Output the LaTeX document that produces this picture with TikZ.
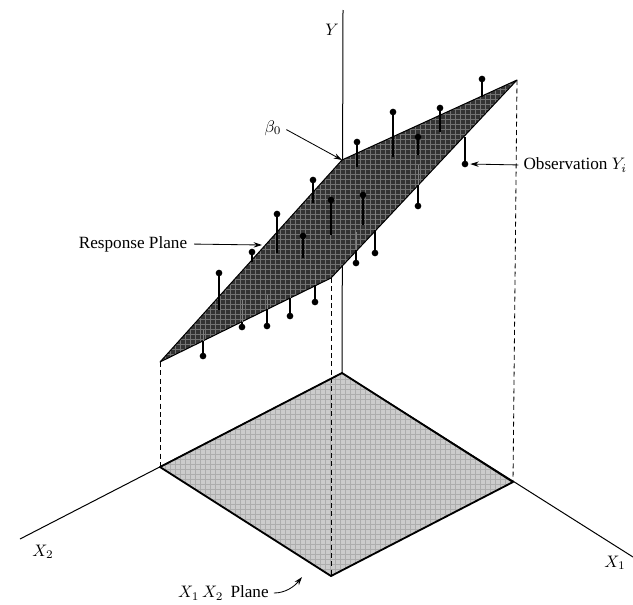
\documentclass[tikz,border=0pt]{standalone}
\usepackage{fontspec}
\setmainfont{Liberation Serif}
\usetikzlibrary{arrows.meta,patterns}
\begin{document}
\begin{tikzpicture}[x=0.6pt,y=-0.6pt,
  lbl/.style={font=\fontsize{10.3}{12}\selectfont, inner sep=1pt},
  ptr/.style={-{Stealth[length=5pt,width=3.2pt]}, line width=0.5pt},
  axis/.style={line width=0.6pt},
  edge/.style={line width=1.1pt, line join=round},
  guide/.style={dash pattern=on 3pt off 2pt, line width=0.5pt},
  obs/.style={circle, fill=black, inner sep=0pt, minimum size=4pt},
  stem/.style={line width=0.8pt},
  hidstem/.style={line width=0.6pt, black!50},
  planefill/.style={fill=black!80},
  floorfill/.style={fill=black!20},
]
\useasboundingbox (0,0) rectangle (633,604);

% key points
\coordinate (O) at (342,373);
\coordinate (FL) at (160,467);
\coordinate (FR) at (513,482);
\coordinate (FF) at (331,576);
\coordinate (PB) at (342,160);
\coordinate (PL) at (160,362);
\coordinate (PR) at (517,80);
\coordinate (PF) at (331,278);
\coordinate (Ytop) at (343,10);
\coordinate (X2end) at (20,539);
\coordinate (X1end) at (633,557);

% axes
\draw[axis] (Ytop) -- (O);
\draw[axis] (O) -- (X2end);
\draw[axis] (O) -- (X1end);

% X1 X2 plane
\fill[floorfill] (O) -- (FL) -- (FF) -- (FR) -- cycle;
\fill[pattern=grid, pattern color=black!32] (O) -- (FL) -- (FF) -- (FR) -- cycle;
\draw[edge] (O) -- (FL) -- (FF) -- (FR) -- cycle;

% vertical guides
\draw[guide] (PL) -- (FL);
\draw[guide] (PR) -- (FR);
\draw[guide] (PF) -- (FF);

% response plane
\fill[planefill] (PL) -- (PB) -- (PR) -- (PF) -- cycle;
\fill[pattern=grid, pattern color=black!55] (PL) -- (PB) -- (PR) -- (PF) -- cycle;
\draw[line width=0.6pt, line join=round] (PL) -- (PB) -- (PR) -- (PF) -- cycle;

% observations below the plane
\foreach \x/\yd/\ye/\yi [count=\i] in {418/206/185/165, 465/164/137/137, 375/253/230/210,
    356/263/250/232, 315/302/285/265, 290/316/298/282, 267/326/309/295,
    242/327/322/300, 203/356/341/330}{
  \draw[hidstem] (\x,\yi) -- (\x,\ye);
  \node[obs] (b\i) at (\x,\yd) {};
  \draw[stem] (b\i.center) -- (\x,\ye);
}

% observations above the plane
\foreach \x/\yd/\ye [count=\i] in {482/79/97, 440/108/132, 393/112/157, 357/142/167,
    418/137/155, 313/180/203, 331/200/235, 363/195/225, 277/214/253,
    303/236/258, 252/252/262, 219/273/310}{
  \node[obs] (a\i) at (\x,\yd) {};
  \draw[stem] (a\i.center) -- (\x,\ye);
}

% labels
\node[lbl] (ylab) at (332,30) {$Y$};
\node[lbl] (x2lab) at (43,552) {$X_2$};
\node[lbl] (x1lab) at (615,563) {$X_1$};

\node[lbl] (b0lab) at (273,128) {$\beta_0$};
\draw[ptr, shorten <=2pt] (b0lab.east) -- (PB);

\node[lbl] (rplab) at (133,244) {Response Plane};
\coordinate (rptip) at (262,245);
\draw[ptr, shorten <=3pt] (rplab.east) -- (rptip);

\node[lbl, anchor=east] (oblab) at (629,165) {Observation $Y_i$};
\draw[ptr, shorten <=2pt, shorten >=1pt] (oblab.west) -- (b2.east);

\node[lbl, anchor=west] (xplab) at (176,593) {$X_1\,X_2$\, Plane};
\coordinate (xptip) at (302,577);
\draw[ptr, shorten <=2pt] (xplab.east) .. controls (285,593) and (294,587) .. (xptip);
\end{tikzpicture}
\end{document}
